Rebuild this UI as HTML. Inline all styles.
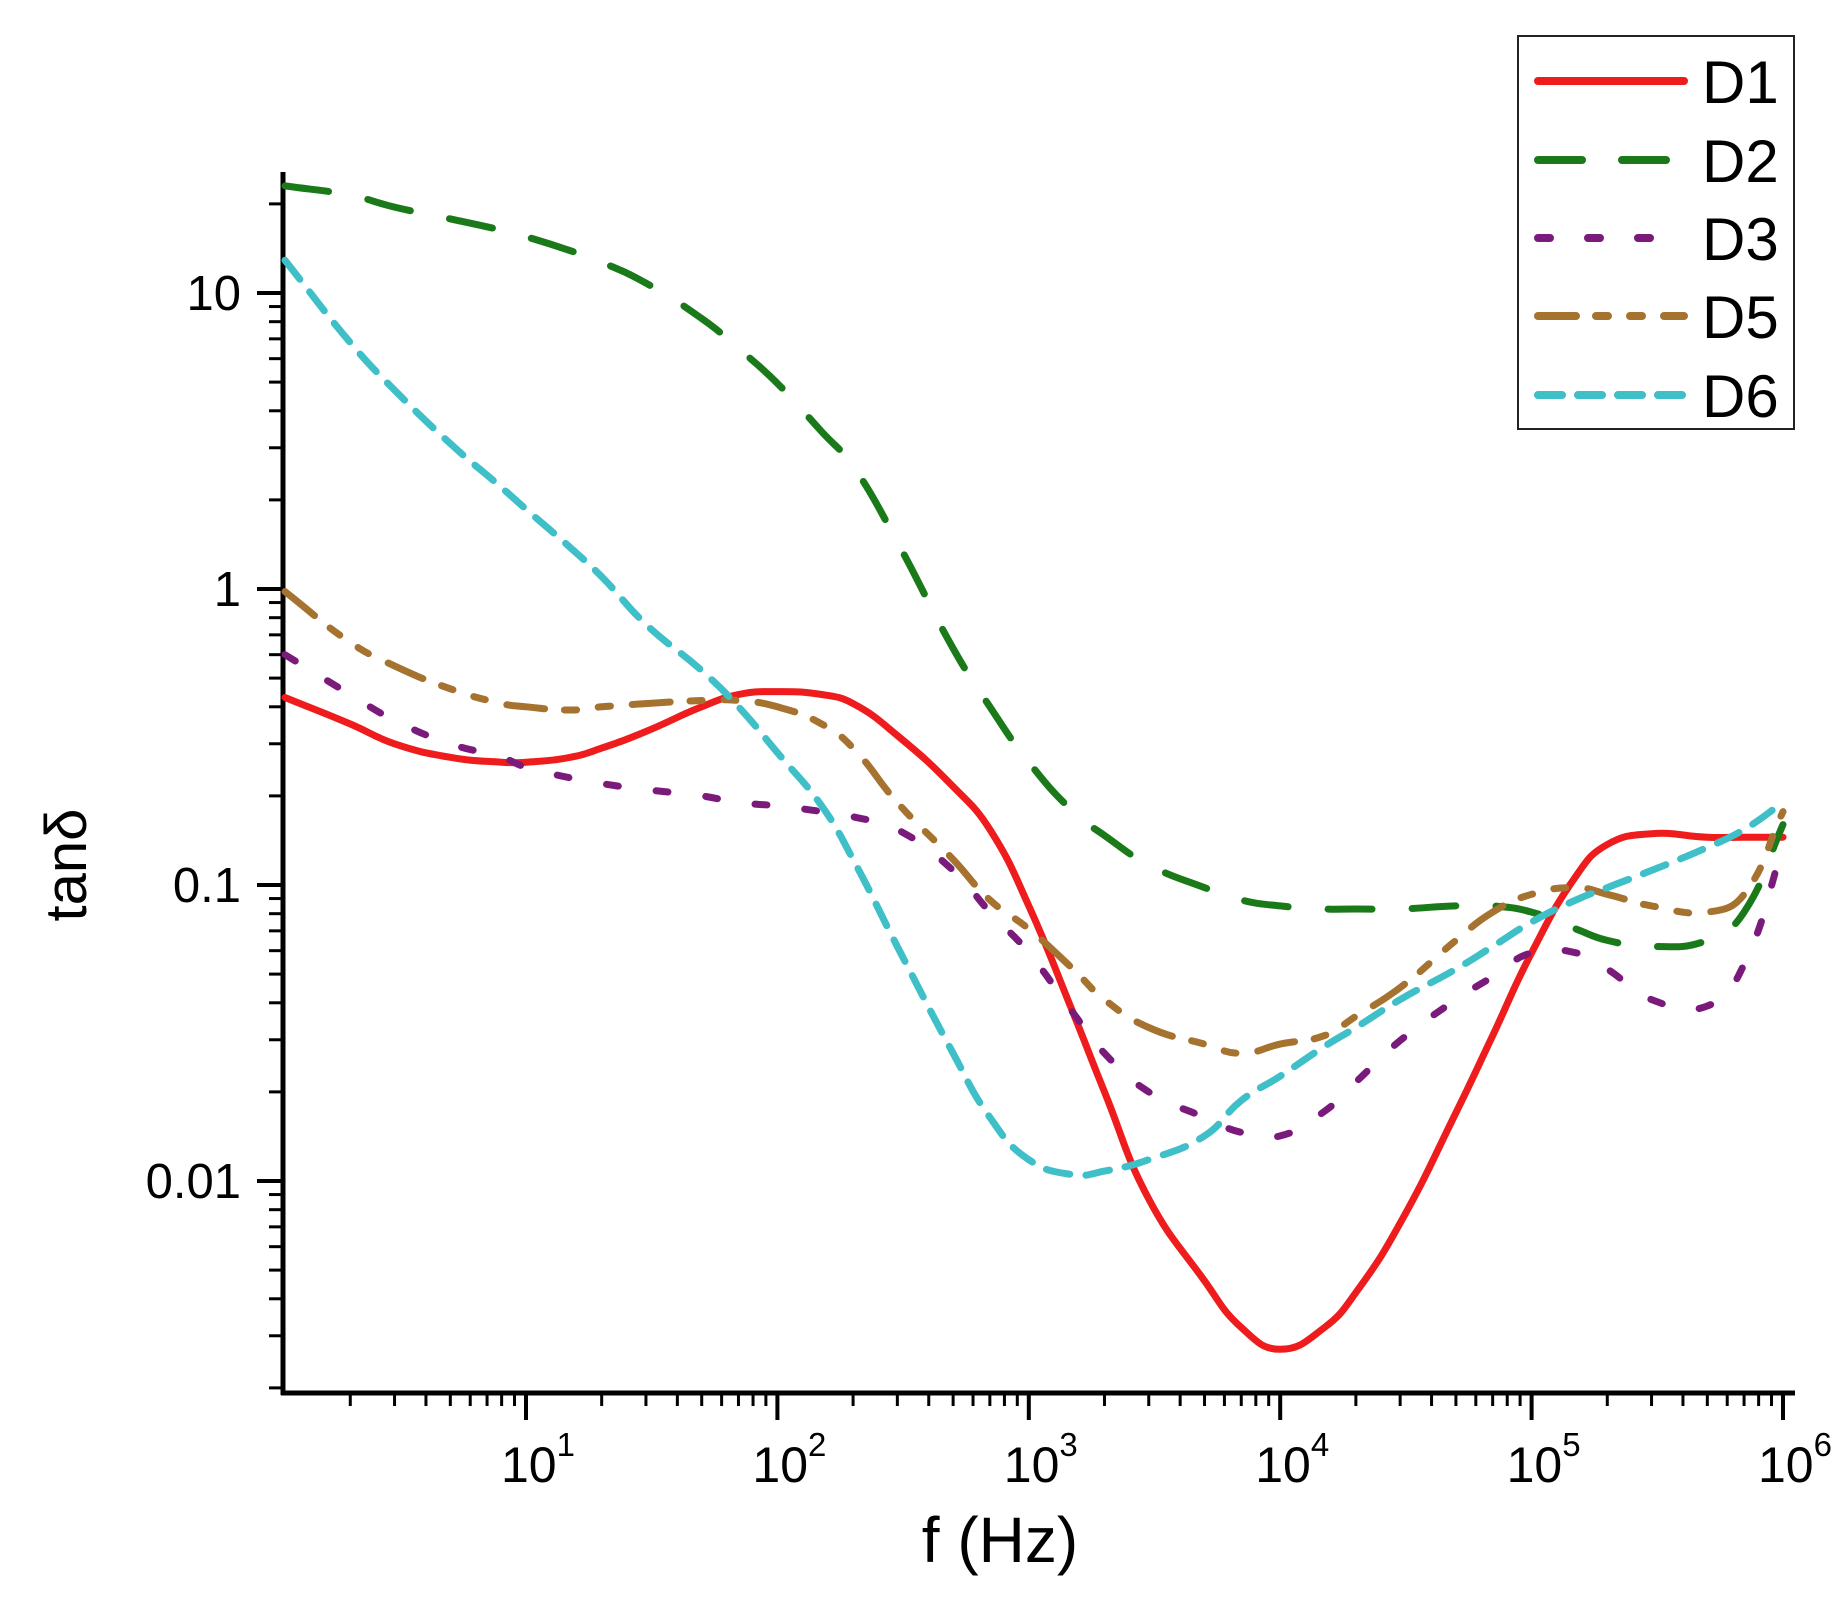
<!DOCTYPE html>
<html><head><meta charset="utf-8"><style>
html,body{margin:0;padding:0;background:#fff}
svg{display:block}
text{font-family:"Liberation Sans",sans-serif;fill:#000}
</style></head><body>
<svg id="chart" width="1848" height="1604" viewBox="0 0 1848 1604">
<g id="axes"></g>
<g id="series"></g>
<g id="legend"></g>
</svg>
<script>
const freqs = [1.1,2,3,5,8,10,15,20,30,50,70,100,150,200,300,500,700,1000,1500,2000,3000,5000,7000,10000,15000,20000,30000,50000,70000,100000,150000,200000,300000,500000,700000,1000000];
const d1 = [0.43,0.35,0.30,0.27,0.26,0.26,0.27,0.29,0.33,0.40,0.44,0.45,0.44,0.41,0.32,0.215,0.154,0.085,0.037,0.020,0.0087,0.0046,0.0032,0.0027,0.0032,0.0042,0.0072,0.017,0.031,0.059,0.107,0.137,0.149,0.145,0.145,0.145];
const d2 = [23,21.4,19.5,17.8,16.3,15.5,13.9,12.7,10.8,8.2,6.5,4.95,3.4,2.6,1.44,0.63,0.40,0.26,0.177,0.147,0.117,0.098,0.089,0.085,0.083,0.083,0.083,0.085,0.085,0.081,0.071,0.065,0.062,0.065,0.081,0.16];
const d3 = [0.60,0.44,0.36,0.30,0.27,0.25,0.23,0.22,0.21,0.20,0.19,0.185,0.177,0.17,0.154,0.112,0.081,0.059,0.037,0.027,0.020,0.0164,0.0146,0.0142,0.0172,0.0216,0.0298,0.041,0.049,0.059,0.059,0.052,0.041,0.039,0.054,0.134];
const d5 = [0.98,0.66,0.55,0.46,0.41,0.40,0.39,0.40,0.41,0.42,0.42,0.40,0.35,0.29,0.19,0.122,0.089,0.071,0.052,0.041,0.033,0.029,0.027,0.029,0.031,0.036,0.045,0.065,0.081,0.093,0.098,0.093,0.085,0.081,0.093,0.177];
const d6 = [12.9,6.8,4.7,3.1,2.2,1.86,1.38,1.10,0.76,0.53,0.40,0.28,0.185,0.122,0.062,0.027,0.0164,0.0118,0.0105,0.0108,0.0118,0.0142,0.0187,0.0226,0.0285,0.033,0.041,0.052,0.062,0.075,0.089,0.098,0.112,0.134,0.154,0.19];
const seriesNames = ["D1","D2","D3","D5","D6"];
const yTickValues = [10,1,0.1,0.01];
const yTickLabels = ["10","1","0.1","0.01"];
const xTickExps = [1,2,3,4,5,6];

const NS="http://www.w3.org/2000/svg";
const X0=274.6, XD=251.4, Y1=589, YD=296;
const pL=283, pR=1795, pT=172, pB=1393;
function xs(f){return X0+Math.log10(f)*XD;}
function ys(v){return Y1-Math.log10(v)*YD;}
function el(tag,attrs,parent){const e=document.createElementNS(NS,tag);for(const k in attrs)e.setAttribute(k,attrs[k]);parent.appendChild(e);return e;}
const axes=document.getElementById('axes'), sg=document.getElementById('series'), lg=document.getElementById('legend');

let a=el('line',{x1:pL,y1:pT,x2:pL,y2:pB+2,stroke:'#000','stroke-width':5},axes);


a=el('line',{x1:pL-2,y1:pB,x2:pR,y2:pB,stroke:'#000','stroke-width':5},axes);



for(let e=-3;e<=1;e++){
  for(let m=1;m<=9;m++){
    const v=m*Math.pow(10,e); const y=ys(v);
    if(y<pT||y>pB) continue;
    const major=m===1;
    const t=el('line',{x1:pL-(major?26:14),y1:y,x2:pL,y2:y,stroke:'#000','stroke-width':major?4:3},axes);
    
    
  }
}
yTickValues.forEach((v,i)=>{
  const t=el('text',{x:pL-42,y:ys(v)+17,'text-anchor':'end','font-size':49},axes);
  t.textContent=yTickLabels[i];
  
  
});
for(let e=0;e<=5;e++){
  for(let m=2;m<=10;m++){
    const f=m*Math.pow(10,e); const x=xs(f);
    if(x<pL+3||x>pR) continue;
    const major=m===10;
    const t=el('line',{x1:x,y1:pB,x2:x,y2:pB+(major?27:13),stroke:'#000','stroke-width':major?4:3},axes);
    
    
  }
}
xTickExps.forEach(e=>{
  const t=el('text',{x:xs(Math.pow(10,e))+12,y:1482,'text-anchor':'middle','font-size':50},axes);
  t.textContent='10';
  const s=el('tspan',{dy:-26,'font-size':33},t);
  s.textContent=String(e);
  
  
});
let tt=el('text',{x:1000,y:1562,'text-anchor':'middle','font-size':64},axes);
tt.textContent='f (Hz)';


tt=el('text',{x:0,y:0,'text-anchor':'middle','font-size':58,transform:'translate(86,865) rotate(-90)'},axes);
tt.textContent='tanδ';



const styles=[
 {color:'#ee1c1c',dash:'none'},
 {color:'#1a7a1a',dash:'44 40'},
 {color:'#7a1a7a',dash:'12 38'},
 {color:'#a5722f',dash:'38 20 12 22 12 22'},
 {color:'#3fbfc8',dash:'24 16'}
];
const allData=[d1,d2,d3,d5,d6];
function pathFor(vals){
  const pts=freqs.map((f,i)=>[xs(f),ys(vals[i])]);
  let d='M'+pts[0][0].toFixed(1)+','+pts[0][1].toFixed(1);
  const dist=(p,q)=>Math.hypot(q[0]-p[0],q[1]-p[1])||1;
  for(let i=0;i<pts.length-1;i++){
    const p0=pts[Math.max(0,i-1)],p1=pts[i],p2=pts[i+1],p3=pts[Math.min(pts.length-1,i+2)];
    const d12=dist(p1,p2), d01=dist(p0,p1), d23=dist(p2,p3);
    const s1=d12/(d01+d12)/2.2, s2=d12/(d12+d23)/2.2;
    const c1=[p1[0]+(p2[0]-p0[0])*s1,p1[1]+(p2[1]-p0[1])*s1];
    const c2=[p2[0]-(p3[0]-p1[0])*s2,p2[1]-(p3[1]-p1[1])*s2];
    d+=' C'+c1[0].toFixed(1)+','+c1[1].toFixed(1)+' '+c2[0].toFixed(1)+','+c2[1].toFixed(1)+' '+p2[0].toFixed(1)+','+p2[1].toFixed(1);
  }
  return d;
}
allData.forEach((vals,i)=>{
  const p=el('path',{d:pathFor(vals),fill:'none',stroke:styles[i].color,'stroke-width':7,'stroke-dasharray':styles[i].dash,'stroke-linecap':'round','stroke-linejoin':'round'},sg);
  
  
});

let box=el('rect',{x:1518,y:36,width:276,height:393,fill:'#fff',stroke:'#222','stroke-width':2},lg);


const rowY=[81,160,238,316,395];
seriesNames.forEach((n,i)=>{
  const g=el('g',{},lg);
  
  
  el('line',{x1:1538,y1:rowY[i],x2:1684,y2:rowY[i],stroke:styles[i].color,'stroke-width':8,'stroke-dasharray':styles[i].dash,'stroke-linecap':'round'},g);
  const t=el('text',{x:1702,y:rowY[i]+22,'font-size':60},g);
  t.textContent=n;
});
</script>
</body></html>
